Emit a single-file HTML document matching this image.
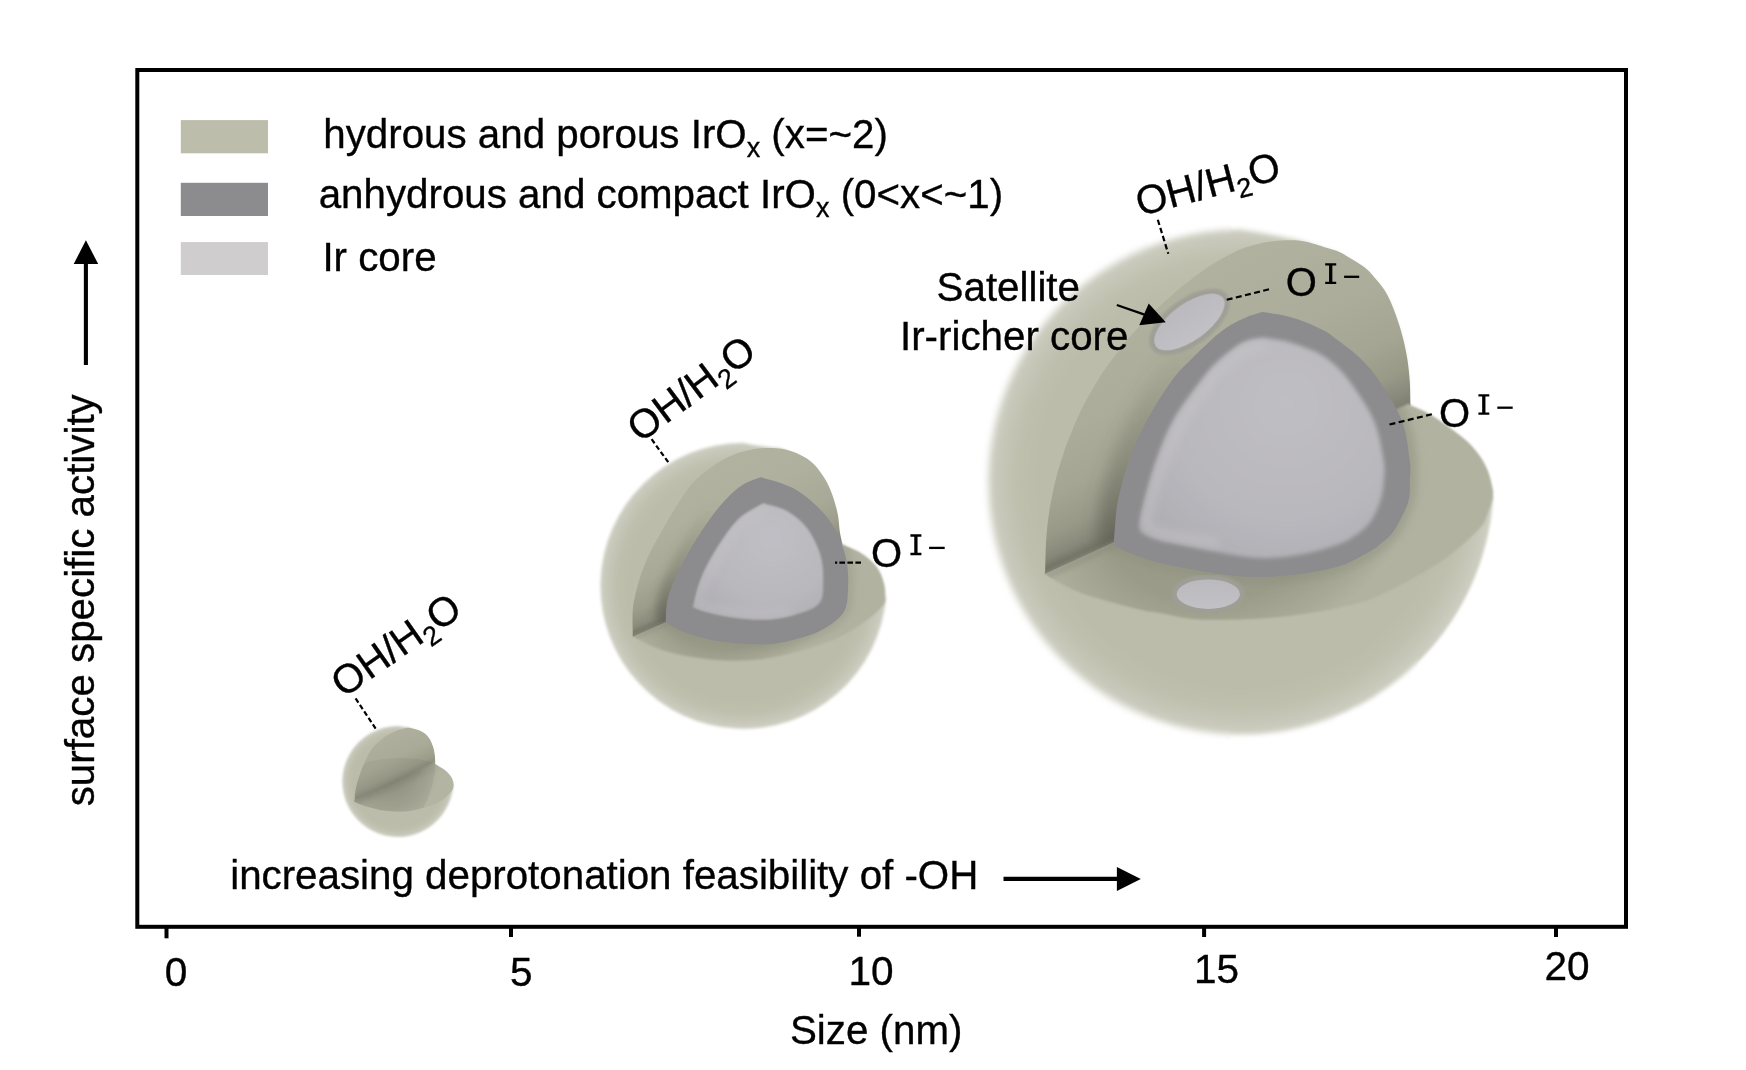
<!DOCTYPE html>
<html><head><meta charset="utf-8"><title>figure</title>
<style>
html,body{margin:0;padding:0;background:#fff;overflow:hidden;}
svg{display:block;}
text{font-family:"Liberation Sans",sans-serif;fill:#000;stroke:#000;stroke-width:0.35px;}
</style></head>
<body>
<svg width="1746" height="1070" viewBox="0 0 1746 1070">
<defs>
<filter id="bs" x="-5%" y="-5%" width="110%" height="110%"><feGaussianBlur stdDeviation="0.7"/></filter>
<filter id="bm" x="-5%" y="-5%" width="110%" height="110%"><feGaussianBlur stdDeviation="1.3"/></filter>
<filter id="b2" x="-20%" y="-20%" width="140%" height="140%"><feGaussianBlur stdDeviation="2.2"/></filter>
<filter id="b4" x="-30%" y="-30%" width="160%" height="160%"><feGaussianBlur stdDeviation="4"/></filter>
<filter id="b2u" filterUnits="userSpaceOnUse" x="0" y="0" width="1746" height="1070"><feGaussianBlur stdDeviation="2.2"/></filter>
<filter id="b4u" filterUnits="userSpaceOnUse" x="0" y="0" width="1746" height="1070"><feGaussianBlur stdDeviation="4"/></filter>
<filter id="b8" x="-30%" y="-30%" width="160%" height="160%"><feGaussianBlur stdDeviation="8"/></filter>
<radialGradient id="gB" gradientUnits="userSpaceOnUse" cx="1241" cy="482" r="256.1">
<stop offset="0" stop-color="#bbbca9"/><stop offset="0.80" stop-color="#bbbca9"/><stop offset="0.88" stop-color="#bfc0ae"/><stop offset="0.94" stop-color="#c6c7b8"/><stop offset="1" stop-color="#d0d1c5"/></radialGradient>
<filter id="bB" x="-10%" y="-10%" width="120%" height="120%"><feGaussianBlur stdDeviation="3.6"/></filter>
<filter id="bB0" x="-10%" y="-10%" width="120%" height="120%"><feGaussianBlur stdDeviation="3.60"/></filter>
<clipPath id="clB0"><rect x="928" y="170" width="199" height="625"/></clipPath>
<filter id="bB1" x="-10%" y="-10%" width="120%" height="120%"><feGaussianBlur stdDeviation="3.48"/></filter>
<clipPath id="clB1"><rect x="1127" y="170" width="21" height="625"/></clipPath>
<filter id="bB2" x="-10%" y="-10%" width="120%" height="120%"><feGaussianBlur stdDeviation="3.36"/></filter>
<clipPath id="clB2"><rect x="1148" y="170" width="21" height="625"/></clipPath>
<filter id="bB3" x="-10%" y="-10%" width="120%" height="120%"><feGaussianBlur stdDeviation="3.24"/></filter>
<clipPath id="clB3"><rect x="1169" y="170" width="21" height="625"/></clipPath>
<filter id="bB4" x="-10%" y="-10%" width="120%" height="120%"><feGaussianBlur stdDeviation="3.12"/></filter>
<clipPath id="clB4"><rect x="1190" y="170" width="20" height="625"/></clipPath>
<filter id="bB5" x="-10%" y="-10%" width="120%" height="120%"><feGaussianBlur stdDeviation="3.00"/></filter>
<clipPath id="clB5"><rect x="1210" y="170" width="21" height="625"/></clipPath>
<filter id="bB6" x="-10%" y="-10%" width="120%" height="120%"><feGaussianBlur stdDeviation="2.88"/></filter>
<clipPath id="clB6"><rect x="1231" y="170" width="21" height="625"/></clipPath>
<filter id="bB7" x="-10%" y="-10%" width="120%" height="120%"><feGaussianBlur stdDeviation="2.76"/></filter>
<clipPath id="clB7"><rect x="1252" y="170" width="21" height="625"/></clipPath>
<filter id="bB8" x="-10%" y="-10%" width="120%" height="120%"><feGaussianBlur stdDeviation="2.64"/></filter>
<clipPath id="clB8"><rect x="1273" y="170" width="20" height="625"/></clipPath>
<filter id="bB9" x="-10%" y="-10%" width="120%" height="120%"><feGaussianBlur stdDeviation="2.52"/></filter>
<clipPath id="clB9"><rect x="1293" y="170" width="21" height="625"/></clipPath>
<filter id="bB10" x="-10%" y="-10%" width="120%" height="120%"><feGaussianBlur stdDeviation="2.40"/></filter>
<clipPath id="clB10"><rect x="1314" y="170" width="21" height="625"/></clipPath>
<filter id="bB11" x="-10%" y="-10%" width="120%" height="120%"><feGaussianBlur stdDeviation="2.28"/></filter>
<clipPath id="clB11"><rect x="1335" y="170" width="21" height="625"/></clipPath>
<filter id="bB12" x="-10%" y="-10%" width="120%" height="120%"><feGaussianBlur stdDeviation="2.16"/></filter>
<clipPath id="clB12"><rect x="1356" y="170" width="20" height="625"/></clipPath>
<filter id="bB13" x="-10%" y="-10%" width="120%" height="120%"><feGaussianBlur stdDeviation="2.04"/></filter>
<clipPath id="clB13"><rect x="1376" y="170" width="21" height="625"/></clipPath>
<filter id="bB14" x="-10%" y="-10%" width="120%" height="120%"><feGaussianBlur stdDeviation="1.92"/></filter>
<clipPath id="clB14"><rect x="1397" y="170" width="21" height="625"/></clipPath>
<filter id="bB15" x="-10%" y="-10%" width="120%" height="120%"><feGaussianBlur stdDeviation="1.80"/></filter>
<clipPath id="clB15"><rect x="1418" y="170" width="136" height="625"/></clipPath>
<linearGradient id="wB" gradientUnits="userSpaceOnUse" x1="1045.2" y1="573.8" x2="902.8" y2="265.1"><stop offset="0" stop-color="#7c7d6e"/><stop offset="0.035" stop-color="#878879"/><stop offset="0.1" stop-color="#989987"/><stop offset="0.2" stop-color="#a4a592"/><stop offset="0.35" stop-color="#abac99"/><stop offset="0.6" stop-color="#b0b19e"/><stop offset="1" stop-color="#b3b4a1"/></linearGradient>
<radialGradient id="fB" gradientUnits="userSpaceOnUse" cx="0" cy="0" r="201.1" gradientTransform="translate(1227.8 489.5) rotate(-24.77) scale(1 0.795)"><stop offset="0" stop-color="#9a9b88"/><stop offset="0.66" stop-color="#9a9b88"/><stop offset="0.78" stop-color="#a2a390"/><stop offset="0.9" stop-color="#a9aa97"/><stop offset="1" stop-color="#b1b2a0"/></radialGradient>
<radialGradient id="gM" gradientUnits="userSpaceOnUse" cx="743.4" cy="585.8" r="144.6">
<stop offset="0" stop-color="#bbbca9"/><stop offset="0.80" stop-color="#bbbca9"/><stop offset="0.88" stop-color="#bfc0ae"/><stop offset="0.94" stop-color="#c6c7b8"/><stop offset="1" stop-color="#d0d1c5"/></radialGradient>
<filter id="bM" x="-10%" y="-10%" width="120%" height="120%"><feGaussianBlur stdDeviation="1.6"/></filter>
<linearGradient id="wM" gradientUnits="userSpaceOnUse" x1="632.9" y1="636.6" x2="556.4" y2="462.7"><stop offset="0" stop-color="#7c7d6e"/><stop offset="0.04" stop-color="#8a8b7b"/><stop offset="0.12" stop-color="#9c9d8a"/><stop offset="0.25" stop-color="#a8a996"/><stop offset="0.45" stop-color="#afb09d"/><stop offset="1" stop-color="#b4b5a2"/></linearGradient>
<radialGradient id="fM" gradientUnits="userSpaceOnUse" cx="0" cy="0" r="114.5" gradientTransform="translate(737.7 590.5) rotate(-23.74) scale(1 0.731)"><stop offset="0" stop-color="#9a9b88"/><stop offset="0.66" stop-color="#9a9b88"/><stop offset="0.78" stop-color="#a2a390"/><stop offset="0.9" stop-color="#a9aa97"/><stop offset="1" stop-color="#b1b2a0"/></radialGradient>
<radialGradient id="gS" gradientUnits="userSpaceOnUse" cx="397.8" cy="781.5" r="56.3">
<stop offset="0" stop-color="#bbbca9"/><stop offset="0.80" stop-color="#bbbca9"/><stop offset="0.88" stop-color="#bfc0ae"/><stop offset="0.94" stop-color="#c6c7b8"/><stop offset="1" stop-color="#d0d1c5"/></radialGradient>
<filter id="bS" x="-10%" y="-10%" width="120%" height="120%"><feGaussianBlur stdDeviation="0.8"/></filter>
<linearGradient id="wS" gradientUnits="userSpaceOnUse" x1="354.7" y1="802.1" x2="322.5" y2="734.3"><stop offset="0" stop-color="#8d8e7f"/><stop offset="0.1" stop-color="#9c9d8b"/><stop offset="0.3" stop-color="#a9aa97"/><stop offset="0.6" stop-color="#aeaf9c"/><stop offset="1" stop-color="#b1b2a0"/></linearGradient>
<radialGradient id="fS" gradientUnits="userSpaceOnUse" cx="0" cy="0" r="44.6" gradientTransform="translate(394.9 783.0) rotate(-25.39) scale(1 0.807)"><stop offset="0" stop-color="#9c9d8b"/><stop offset="0.35" stop-color="#a0a18f"/><stop offset="0.7" stop-color="#a9aa98"/><stop offset="1" stop-color="#b3b4a2"/></radialGradient>
<clipPath id="cwfB"><path d="M1045.2 573.8 C1045.4 568.2 1045.5 550.6 1046.2 540.0 C1046.9 529.4 1047.9 520.0 1049.5 510.0 C1051.1 500.0 1053.3 489.2 1055.6 480.0 C1057.8 470.8 1060.7 462.2 1063.0 455.0 C1065.3 447.8 1066.5 444.5 1069.5 437.0 C1072.5 429.5 1076.5 419.5 1081.2 410.0 C1086.0 400.5 1093.5 387.5 1098.0 380.0 C1102.5 372.5 1104.4 370.0 1108.0 365.0 C1111.6 360.0 1115.6 355.0 1119.5 350.0 C1123.4 345.0 1123.5 343.3 1131.3 335.0 C1139.1 326.7 1154.8 310.5 1166.4 300.0 C1178.0 289.5 1190.1 279.8 1201.0 272.0 C1211.9 264.2 1223.4 257.8 1232.0 253.3 C1240.6 248.9 1245.9 247.3 1252.8 245.3 C1259.7 243.3 1265.5 242.1 1273.4 241.3 C1281.3 240.6 1291.6 239.9 1300.0 240.8 C1308.4 241.7 1317.1 245.1 1323.7 246.9 C1330.3 248.8 1334.6 249.8 1339.4 251.9 C1344.2 254.1 1348.3 257.0 1352.8 259.8 C1357.3 262.6 1362.2 265.1 1366.3 268.7 C1370.4 272.2 1374.1 277.0 1377.5 281.1 C1380.9 285.2 1383.9 288.9 1386.5 293.4 C1389.1 297.9 1391.2 302.9 1393.2 308.0 C1395.2 313.1 1397.1 318.5 1398.8 323.7 C1400.5 328.9 1401.8 333.3 1403.3 339.4 C1404.8 345.4 1406.4 352.9 1407.5 360.0 C1408.6 367.1 1409.3 374.4 1409.8 382.0 C1410.3 389.6 1410.3 401.4 1410.4 405.3 Z"/><path d="M1410.4 405.3 C1413.0 406.4 1420.7 409.3 1425.8 412.0 C1430.9 414.7 1436.1 418.2 1441.3 421.7 C1446.5 425.2 1452.1 429.4 1456.7 433.0 C1461.3 436.6 1465.1 439.4 1469.0 443.3 C1472.9 447.2 1477.2 452.2 1480.3 456.7 C1483.4 461.2 1485.6 465.5 1487.5 470.1 C1489.4 474.7 1490.8 480.2 1491.7 484.5 C1492.6 488.8 1493.7 490.9 1492.9 496.0 C1492.1 501.1 1489.4 509.4 1487.0 515.0 C1484.6 520.6 1486.2 521.8 1478.3 529.7 C1470.4 537.6 1455.9 551.6 1439.4 562.6 C1423.0 573.6 1396.2 588.0 1379.6 595.5 C1363.0 603.0 1353.3 604.3 1340.0 607.5 C1326.7 610.7 1313.3 612.7 1300.0 614.5 C1286.7 616.3 1276.8 617.7 1260.0 618.5 C1243.2 619.3 1215.7 620.4 1199.0 619.5 C1182.3 618.6 1169.9 614.7 1160.0 613.0 C1150.1 611.3 1152.9 612.9 1139.5 609.5 C1126.1 606.1 1095.3 598.3 1079.6 592.5 C1063.9 586.7 1051.0 577.6 1045.3 574.6 L1044.3 571.8 L1409.5 403.3 Z"/></clipPath>
<clipPath id="cfB"><path d="M1410.4 405.3 C1413.0 406.4 1420.7 409.3 1425.8 412.0 C1430.9 414.7 1436.1 418.2 1441.3 421.7 C1446.5 425.2 1452.1 429.4 1456.7 433.0 C1461.3 436.6 1465.1 439.4 1469.0 443.3 C1472.9 447.2 1477.2 452.2 1480.3 456.7 C1483.4 461.2 1485.6 465.5 1487.5 470.1 C1489.4 474.7 1490.8 480.2 1491.7 484.5 C1492.6 488.8 1493.7 490.9 1492.9 496.0 C1492.1 501.1 1489.4 509.4 1487.0 515.0 C1484.6 520.6 1486.2 521.8 1478.3 529.7 C1470.4 537.6 1455.9 551.6 1439.4 562.6 C1423.0 573.6 1396.2 588.0 1379.6 595.5 C1363.0 603.0 1353.3 604.3 1340.0 607.5 C1326.7 610.7 1313.3 612.7 1300.0 614.5 C1286.7 616.3 1276.8 617.7 1260.0 618.5 C1243.2 619.3 1215.7 620.4 1199.0 619.5 C1182.3 618.6 1169.9 614.7 1160.0 613.0 C1150.1 611.3 1152.9 612.9 1139.5 609.5 C1126.1 606.1 1095.3 598.3 1079.6 592.5 C1063.9 586.7 1051.0 577.6 1045.3 574.6 L1044.3 571.8 L1409.5 403.3 Z"/></clipPath>
<clipPath id="cfM"><path d="M842.5 544.4 C845.2 545.6 853.9 549.0 858.7 551.8 C863.5 554.6 867.9 557.8 871.5 561.2 C875.1 564.6 878.0 568.4 880.1 572.4 C882.2 576.4 883.5 581.2 884.4 585.3 C885.2 589.4 885.5 593.5 885.2 597.0 C884.9 600.5 885.9 602.0 882.6 606.0 C879.3 610.0 872.9 615.8 865.2 621.2 C857.5 626.6 848.4 633.3 836.3 638.6 C824.2 643.9 807.3 649.4 792.8 653.0 C778.3 656.6 763.9 659.3 749.4 660.3 C734.9 661.3 720.5 660.7 706.0 659.0 C691.5 657.3 674.6 653.9 662.4 650.2 C650.2 646.5 637.8 638.9 632.9 636.6 L632.0 634.6 L841.6 542.4 Z"/></clipPath>
<clipPath id="cwfM"><path d="M632.9 636.6 C633.0 631.1 631.6 615.5 633.5 603.8 C635.4 592.1 639.3 578.3 644.0 566.2 C648.7 554.1 654.4 544.0 661.5 531.4 C668.6 518.8 679.5 500.5 686.5 490.8 C693.5 481.1 698.5 477.7 703.7 473.1 C708.9 468.5 712.9 465.9 717.5 463.0 C722.1 460.1 726.6 457.7 731.2 455.7 C735.8 453.7 740.1 452.3 745.0 451.1 C749.9 449.9 754.5 448.7 760.6 448.3 C766.7 447.9 775.1 447.7 781.7 448.8 C788.3 449.9 794.7 452.2 800.0 454.7 C805.3 457.2 809.6 459.9 813.7 463.9 C817.8 467.9 821.6 473.6 824.7 478.6 C827.8 483.7 829.9 488.3 832.1 494.2 C834.3 500.1 836.4 507.8 837.7 514.0 C839.0 520.2 839.0 526.3 839.8 531.4 C840.6 536.5 842.0 542.2 842.5 544.4 Z"/><path d="M842.5 544.4 C845.2 545.6 853.9 549.0 858.7 551.8 C863.5 554.6 867.9 557.8 871.5 561.2 C875.1 564.6 878.0 568.4 880.1 572.4 C882.2 576.4 883.5 581.2 884.4 585.3 C885.2 589.4 885.5 593.5 885.2 597.0 C884.9 600.5 885.9 602.0 882.6 606.0 C879.3 610.0 872.9 615.8 865.2 621.2 C857.5 626.6 848.4 633.3 836.3 638.6 C824.2 643.9 807.3 649.4 792.8 653.0 C778.3 656.6 763.9 659.3 749.4 660.3 C734.9 661.3 720.5 660.7 706.0 659.0 C691.5 657.3 674.6 653.9 662.4 650.2 C650.2 646.5 637.8 638.9 632.9 636.6 L632.0 634.6 L841.6 542.4 Z"/></clipPath>
<clipPath id="cwfS"><path d="M354.7 802.1 C354.8 800.5 354.8 795.6 355.2 792.5 C355.6 789.4 356.2 786.6 357.0 783.5 C357.8 780.4 358.7 777.7 360.0 774.0 C361.3 770.3 362.9 765.9 365.0 761.5 C367.1 757.1 369.7 751.6 372.9 747.6 C376.1 743.6 380.6 740.1 384.4 737.3 C388.2 734.5 392.5 732.5 395.8 731.0 C399.1 729.5 402.0 729.0 404.4 728.5 C406.8 728.0 407.2 727.6 410.1 728.1 C413.0 728.6 418.5 730.0 421.6 731.6 C424.8 733.2 427.1 735.4 429.0 737.9 C430.9 740.4 432.0 743.6 433.0 746.5 C434.0 749.4 434.4 752.2 434.8 755.1 C435.2 758.0 435.1 762.4 435.2 763.9 Z"/><path d="M435.2 763.9 C436.7 764.8 441.5 767.5 444.1 769.5 C446.7 771.5 449.2 773.8 450.8 776.2 C452.4 778.6 453.4 781.2 453.5 783.7 C453.6 786.2 453.8 788.2 451.5 791.2 C449.2 794.2 444.1 798.9 439.6 801.6 C435.1 804.3 429.6 806.1 424.6 807.6 C419.6 809.1 414.7 810.3 409.7 810.9 C404.7 811.5 399.7 811.6 394.7 811.4 C389.7 811.2 384.8 810.8 379.8 809.9 C374.8 809.0 369.0 807.4 364.8 806.1 C360.6 804.8 356.4 802.8 354.7 802.1 L353.8 800.1 L434.3 761.9 Z"/></clipPath>
<clipPath id="cwB0"><path d="M1045.2 573.8 C1045.4 568.2 1045.5 550.6 1046.2 540.0 C1046.9 529.4 1047.9 520.0 1049.5 510.0 C1051.1 500.0 1053.3 489.2 1055.6 480.0 C1057.8 470.8 1060.7 462.2 1063.0 455.0 C1065.3 447.8 1066.5 444.5 1069.5 437.0 C1072.5 429.5 1076.5 419.5 1081.2 410.0 C1086.0 400.5 1093.5 387.5 1098.0 380.0 C1102.5 372.5 1104.4 370.0 1108.0 365.0 C1111.6 360.0 1115.6 355.0 1119.5 350.0 C1123.4 345.0 1123.5 343.3 1131.3 335.0 C1139.1 326.7 1154.8 310.5 1166.4 300.0 C1178.0 289.5 1190.1 279.8 1201.0 272.0 C1211.9 264.2 1223.4 257.8 1232.0 253.3 C1240.6 248.9 1245.9 247.3 1252.8 245.3 C1259.7 243.3 1265.5 242.1 1273.4 241.3 C1281.3 240.6 1291.6 239.9 1300.0 240.8 C1308.4 241.7 1317.1 245.1 1323.7 246.9 C1330.3 248.8 1334.6 249.8 1339.4 251.9 C1344.2 254.1 1348.3 257.0 1352.8 259.8 C1357.3 262.6 1362.2 265.1 1366.3 268.7 C1370.4 272.2 1374.1 277.0 1377.5 281.1 C1380.9 285.2 1383.9 288.9 1386.5 293.4 C1389.1 297.9 1391.2 302.9 1393.2 308.0 C1395.2 313.1 1397.1 318.5 1398.8 323.7 C1400.5 328.9 1401.8 333.3 1403.3 339.4 C1404.8 345.4 1406.4 352.9 1407.5 360.0 C1408.6 367.1 1409.3 374.4 1409.8 382.0 C1410.3 389.6 1410.3 401.4 1410.4 405.3 Z"/></clipPath>
<clipPath id="cwM0"><path d="M632.9 636.6 C633.0 631.1 631.6 615.5 633.5 603.8 C635.4 592.1 639.3 578.3 644.0 566.2 C648.7 554.1 654.4 544.0 661.5 531.4 C668.6 518.8 679.5 500.5 686.5 490.8 C693.5 481.1 698.5 477.7 703.7 473.1 C708.9 468.5 712.9 465.9 717.5 463.0 C722.1 460.1 726.6 457.7 731.2 455.7 C735.8 453.7 740.1 452.3 745.0 451.1 C749.9 449.9 754.5 448.7 760.6 448.3 C766.7 447.9 775.1 447.7 781.7 448.8 C788.3 449.9 794.7 452.2 800.0 454.7 C805.3 457.2 809.6 459.9 813.7 463.9 C817.8 467.9 821.6 473.6 824.7 478.6 C827.8 483.7 829.9 488.3 832.1 494.2 C834.3 500.1 836.4 507.8 837.7 514.0 C839.0 520.2 839.0 526.3 839.8 531.4 C840.6 536.5 842.0 542.2 842.5 544.4 Z"/></clipPath>
<clipPath id="cwS"><path d="M354.7 802.1 C354.8 800.5 354.8 795.6 355.2 792.5 C355.6 789.4 356.2 786.6 357.0 783.5 C357.8 780.4 358.7 777.7 360.0 774.0 C361.3 770.3 362.9 765.9 365.0 761.5 C367.1 757.1 369.7 751.6 372.9 747.6 C376.1 743.6 380.6 740.1 384.4 737.3 C388.2 734.5 392.5 732.5 395.8 731.0 C399.1 729.5 402.0 729.0 404.4 728.5 C406.8 728.0 407.2 727.6 410.1 728.1 C413.0 728.6 418.5 730.0 421.6 731.6 C424.8 733.2 427.1 735.4 429.0 737.9 C430.9 740.4 432.0 743.6 433.0 746.5 C434.0 749.4 434.4 752.2 434.8 755.1 C435.2 758.0 435.1 762.4 435.2 763.9 Z"/></clipPath>
<clipPath id="cfS"><path d="M435.2 763.9 C436.7 764.8 441.5 767.5 444.1 769.5 C446.7 771.5 449.2 773.8 450.8 776.2 C452.4 778.6 453.4 781.2 453.5 783.7 C453.6 786.2 453.8 788.2 451.5 791.2 C449.2 794.2 444.1 798.9 439.6 801.6 C435.1 804.3 429.6 806.1 424.6 807.6 C419.6 809.1 414.7 810.3 409.7 810.9 C404.7 811.5 399.7 811.6 394.7 811.4 C389.7 811.2 384.8 810.8 379.8 809.9 C374.8 809.0 369.0 807.4 364.8 806.1 C360.6 804.8 356.4 802.8 354.7 802.1 L353.8 800.1 L434.3 761.9 Z"/></clipPath>
<linearGradient id="aoB" gradientUnits="userSpaceOnUse" x1="1113.7" y1="545" x2="1211.3" y2="340"><stop offset="0" stop-color="#55564b" stop-opacity="0.62"/><stop offset="0.35" stop-color="#5d5e52" stop-opacity="0.36"/><stop offset="1" stop-color="#6a6b5e" stop-opacity="0"/></linearGradient>
<clipPath id="cwB"><path d="M1045.2 573.8 C1045.4 568.2 1045.5 550.6 1046.2 540.0 C1046.9 529.4 1047.9 520.0 1049.5 510.0 C1051.1 500.0 1053.3 489.2 1055.6 480.0 C1057.8 470.8 1060.7 462.2 1063.0 455.0 C1065.3 447.8 1066.5 444.5 1069.5 437.0 C1072.5 429.5 1076.5 419.5 1081.2 410.0 C1086.0 400.5 1093.5 387.5 1098.0 380.0 C1102.5 372.5 1104.4 370.0 1108.0 365.0 C1111.6 360.0 1115.6 355.0 1119.5 350.0 C1123.4 345.0 1123.5 343.3 1131.3 335.0 C1139.1 326.7 1154.8 310.5 1166.4 300.0 C1178.0 289.5 1190.1 279.8 1201.0 272.0 C1211.9 264.2 1223.4 257.8 1232.0 253.3 C1240.6 248.9 1245.9 247.3 1252.8 245.3 C1259.7 243.3 1265.5 242.1 1273.4 241.3 C1281.3 240.6 1291.6 239.9 1300.0 240.8 C1308.4 241.7 1317.1 245.1 1323.7 246.9 C1330.3 248.8 1334.6 249.8 1339.4 251.9 C1344.2 254.1 1348.3 257.0 1352.8 259.8 C1357.3 262.6 1362.2 265.1 1366.3 268.7 C1370.4 272.2 1374.1 277.0 1377.5 281.1 C1380.9 285.2 1383.9 288.9 1386.5 293.4 C1389.1 297.9 1391.2 302.9 1393.2 308.0 C1395.2 313.1 1397.1 318.5 1398.8 323.7 C1400.5 328.9 1401.8 333.3 1403.3 339.4 C1404.8 345.4 1406.4 352.9 1407.5 360.0 C1408.6 367.1 1409.3 374.4 1409.8 382.0 C1410.3 389.6 1410.3 401.4 1410.4 405.3 Z"/></clipPath>
<radialGradient id="cB" gradientUnits="userSpaceOnUse" cx="1286" cy="404" r="191">
<stop offset="0" stop-color="#bfbec3"/><stop offset="0.6" stop-color="#b9b8bd"/><stop offset="1" stop-color="#adacb1"/></radialGradient>
<clipPath id="ccB"><path d="M1262.4 337.5 C1260.1 337.9 1252.7 338.7 1248.3 340.2 C1243.9 341.7 1241.2 342.9 1236.0 346.5 C1230.8 350.1 1222.8 356.4 1217.0 362.0 C1211.2 367.6 1208.5 370.3 1201.2 380.0 C1193.9 389.7 1180.7 406.7 1173.2 420.0 C1165.7 433.3 1160.9 446.7 1156.1 460.0 C1151.2 473.3 1146.9 489.5 1144.1 500.0 C1141.3 510.5 1139.9 517.8 1139.3 523.0 C1138.7 528.2 1140.1 530.1 1140.3 531.5 C1141.6 532.3 1144.7 535.0 1148.0 536.5 C1151.3 538.0 1156.3 539.6 1160.0 540.7 C1163.7 541.8 1161.8 541.3 1170.2 543.0 C1178.6 544.7 1195.3 548.2 1210.3 550.7 C1225.3 553.2 1245.0 557.5 1260.0 558.1 C1275.0 558.7 1288.2 556.4 1300.0 554.5 C1311.8 552.6 1322.1 549.7 1330.5 547.0 C1338.9 544.3 1344.1 542.5 1350.6 538.5 C1357.1 534.5 1364.6 529.4 1369.6 523.0 C1374.6 516.6 1378.2 507.2 1380.6 500.0 C1383.0 492.8 1383.4 486.7 1383.9 480.0 C1384.4 473.3 1385.3 470.0 1383.6 460.0 C1381.9 450.0 1379.4 433.3 1373.6 420.0 C1367.8 406.7 1355.9 389.8 1348.6 380.0 C1341.3 370.2 1335.7 365.8 1330.0 361.0 C1324.3 356.2 1321.1 354.4 1314.4 351.3 C1307.8 348.2 1296.1 344.3 1290.1 342.4 C1284.1 340.5 1283.0 340.8 1278.4 340.0 C1273.8 339.2 1265.1 337.9 1262.4 337.5 Z"/></clipPath>
<linearGradient id="aoM" gradientUnits="userSpaceOnUse" x1="665.9" y1="622.7" x2="720" y2="506"><stop offset="0" stop-color="#55564b" stop-opacity="0.62"/><stop offset="0.35" stop-color="#5d5e52" stop-opacity="0.36"/><stop offset="1" stop-color="#6a6b5e" stop-opacity="0"/></linearGradient>
<clipPath id="cwM"><path d="M632.9 636.6 C633.0 631.1 631.6 615.5 633.5 603.8 C635.4 592.1 639.3 578.3 644.0 566.2 C648.7 554.1 654.4 544.0 661.5 531.4 C668.6 518.8 679.5 500.5 686.5 490.8 C693.5 481.1 698.5 477.7 703.7 473.1 C708.9 468.5 712.9 465.9 717.5 463.0 C722.1 460.1 726.6 457.7 731.2 455.7 C735.8 453.7 740.1 452.3 745.0 451.1 C749.9 449.9 754.5 448.7 760.6 448.3 C766.7 447.9 775.1 447.7 781.7 448.8 C788.3 449.9 794.7 452.2 800.0 454.7 C805.3 457.2 809.6 459.9 813.7 463.9 C817.8 467.9 821.6 473.6 824.7 478.6 C827.8 483.7 829.9 488.3 832.1 494.2 C834.3 500.1 836.4 507.8 837.7 514.0 C839.0 520.2 839.0 526.3 839.8 531.4 C840.6 536.5 842.0 542.2 842.5 544.4 Z"/></clipPath>
<radialGradient id="cM" gradientUnits="userSpaceOnUse" cx="771" cy="538" r="102">
<stop offset="0" stop-color="#c0bfc4"/><stop offset="0.6" stop-color="#b9b8bd"/><stop offset="1" stop-color="#adacb1"/></radialGradient>
<clipPath id="ccM"><path d="M763.2 503.3 C759.0 506.1 745.9 511.7 737.8 519.8 C729.7 527.9 720.9 541.6 714.6 551.7 C708.3 561.9 703.6 571.4 700.0 580.7 C696.4 590.0 694.0 602.9 692.8 607.3 C695.0 608.1 699.9 610.4 705.9 612.0 C711.9 613.6 719.4 615.6 729.0 616.9 C738.6 618.2 753.2 620.0 763.8 619.8 C774.4 619.5 783.6 618.1 792.8 615.4 C802.0 612.7 813.8 609.6 818.9 603.8 C824.0 598.0 823.0 588.9 823.2 580.7 C823.4 572.5 822.9 563.3 820.3 554.6 C817.6 545.9 812.8 535.8 807.3 528.5 C801.8 521.2 794.4 515.2 787.0 511.0 C779.6 506.8 767.2 504.6 763.2 503.3 Z"/></clipPath>
<linearGradient id="gsat" x1="0" y1="0" x2="0" y2="1"><stop offset="0" stop-color="#bab9be"/><stop offset="1" stop-color="#c2c1c6"/></linearGradient>
</defs>
<rect width="1746" height="1070" fill="#fff"/>
<g clip-path="url(#clB0)"><path d="M1241.0 229.5 A252.5 252.5 0 1 0 1493.1 496.0 L1490.4 495.9 C1490.2 494.0 1490.1 488.7 1489.2 484.5 C1488.3 480.2 1486.9 474.8 1485.0 470.2 C1483.1 465.6 1480.9 461.4 1477.8 457.0 C1474.7 452.5 1470.5 447.6 1466.5 443.7 C1462.6 439.8 1458.9 437.1 1454.3 433.6 C1449.7 430.0 1444.0 425.9 1438.9 422.4 C1433.8 419.0 1428.6 415.6 1423.5 412.9 C1418.3 410.2 1410.8 411.3 1408.1 406.3 C1405.5 401.4 1408.1 390.7 1407.6 383.3 C1407.2 375.8 1406.5 368.5 1405.5 361.5 C1404.4 354.4 1402.8 347.1 1401.4 341.1 C1400.0 335.0 1398.7 330.7 1397.0 325.5 C1395.4 320.3 1393.6 314.9 1391.6 309.9 C1389.5 304.9 1387.5 299.8 1385.0 295.4 C1382.4 290.9 1379.4 287.3 1376.1 283.2 C1372.8 279.1 1369.1 274.4 1365.0 270.9 C1361.0 267.3 1356.1 264.8 1351.7 262.0 C1347.2 259.3 1343.2 256.3 1338.4 254.2 C1333.6 252.1 1329.3 251.5 1322.9 249.3 C1316.5 247.0 1306.3 242.8 1300.0 240.8 C1293.7 238.8 1291.2 238.7 1285.0 237.4 C1278.8 236.1 1270.3 234.5 1263.0 233.2 C1255.7 231.9 1244.7 230.1 1241.0 229.5 Z" fill="url(#gB)" filter="url(#bB0)"/></g>
<g clip-path="url(#clB1)"><path d="M1241.0 229.5 A252.5 252.5 0 1 0 1493.1 496.0 L1490.4 495.9 C1490.2 494.0 1490.1 488.7 1489.2 484.5 C1488.3 480.2 1486.9 474.8 1485.0 470.2 C1483.1 465.6 1480.9 461.4 1477.8 457.0 C1474.7 452.5 1470.5 447.6 1466.5 443.7 C1462.6 439.8 1458.9 437.1 1454.3 433.6 C1449.7 430.0 1444.0 425.9 1438.9 422.4 C1433.8 419.0 1428.6 415.6 1423.5 412.9 C1418.3 410.2 1410.8 411.3 1408.1 406.3 C1405.5 401.4 1408.1 390.7 1407.6 383.3 C1407.2 375.8 1406.5 368.5 1405.5 361.5 C1404.4 354.4 1402.8 347.1 1401.4 341.1 C1400.0 335.0 1398.7 330.7 1397.0 325.5 C1395.4 320.3 1393.6 314.9 1391.6 309.9 C1389.5 304.9 1387.5 299.8 1385.0 295.4 C1382.4 290.9 1379.4 287.3 1376.1 283.2 C1372.8 279.1 1369.1 274.4 1365.0 270.9 C1361.0 267.3 1356.1 264.8 1351.7 262.0 C1347.2 259.3 1343.2 256.3 1338.4 254.2 C1333.6 252.1 1329.3 251.5 1322.9 249.3 C1316.5 247.0 1306.3 242.8 1300.0 240.8 C1293.7 238.8 1291.2 238.7 1285.0 237.4 C1278.8 236.1 1270.3 234.5 1263.0 233.2 C1255.7 231.9 1244.7 230.1 1241.0 229.5 Z" fill="url(#gB)" filter="url(#bB1)"/></g>
<g clip-path="url(#clB2)"><path d="M1241.0 229.5 A252.5 252.5 0 1 0 1493.1 496.0 L1490.4 495.9 C1490.2 494.0 1490.1 488.7 1489.2 484.5 C1488.3 480.2 1486.9 474.8 1485.0 470.2 C1483.1 465.6 1480.9 461.4 1477.8 457.0 C1474.7 452.5 1470.5 447.6 1466.5 443.7 C1462.6 439.8 1458.9 437.1 1454.3 433.6 C1449.7 430.0 1444.0 425.9 1438.9 422.4 C1433.8 419.0 1428.6 415.6 1423.5 412.9 C1418.3 410.2 1410.8 411.3 1408.1 406.3 C1405.5 401.4 1408.1 390.7 1407.6 383.3 C1407.2 375.8 1406.5 368.5 1405.5 361.5 C1404.4 354.4 1402.8 347.1 1401.4 341.1 C1400.0 335.0 1398.7 330.7 1397.0 325.5 C1395.4 320.3 1393.6 314.9 1391.6 309.9 C1389.5 304.9 1387.5 299.8 1385.0 295.4 C1382.4 290.9 1379.4 287.3 1376.1 283.2 C1372.8 279.1 1369.1 274.4 1365.0 270.9 C1361.0 267.3 1356.1 264.8 1351.7 262.0 C1347.2 259.3 1343.2 256.3 1338.4 254.2 C1333.6 252.1 1329.3 251.5 1322.9 249.3 C1316.5 247.0 1306.3 242.8 1300.0 240.8 C1293.7 238.8 1291.2 238.7 1285.0 237.4 C1278.8 236.1 1270.3 234.5 1263.0 233.2 C1255.7 231.9 1244.7 230.1 1241.0 229.5 Z" fill="url(#gB)" filter="url(#bB2)"/></g>
<g clip-path="url(#clB3)"><path d="M1241.0 229.5 A252.5 252.5 0 1 0 1493.1 496.0 L1490.4 495.9 C1490.2 494.0 1490.1 488.7 1489.2 484.5 C1488.3 480.2 1486.9 474.8 1485.0 470.2 C1483.1 465.6 1480.9 461.4 1477.8 457.0 C1474.7 452.5 1470.5 447.6 1466.5 443.7 C1462.6 439.8 1458.9 437.1 1454.3 433.6 C1449.7 430.0 1444.0 425.9 1438.9 422.4 C1433.8 419.0 1428.6 415.6 1423.5 412.9 C1418.3 410.2 1410.8 411.3 1408.1 406.3 C1405.5 401.4 1408.1 390.7 1407.6 383.3 C1407.2 375.8 1406.5 368.5 1405.5 361.5 C1404.4 354.4 1402.8 347.1 1401.4 341.1 C1400.0 335.0 1398.7 330.7 1397.0 325.5 C1395.4 320.3 1393.6 314.9 1391.6 309.9 C1389.5 304.9 1387.5 299.8 1385.0 295.4 C1382.4 290.9 1379.4 287.3 1376.1 283.2 C1372.8 279.1 1369.1 274.4 1365.0 270.9 C1361.0 267.3 1356.1 264.8 1351.7 262.0 C1347.2 259.3 1343.2 256.3 1338.4 254.2 C1333.6 252.1 1329.3 251.5 1322.9 249.3 C1316.5 247.0 1306.3 242.8 1300.0 240.8 C1293.7 238.8 1291.2 238.7 1285.0 237.4 C1278.8 236.1 1270.3 234.5 1263.0 233.2 C1255.7 231.9 1244.7 230.1 1241.0 229.5 Z" fill="url(#gB)" filter="url(#bB3)"/></g>
<g clip-path="url(#clB4)"><path d="M1241.0 229.5 A252.5 252.5 0 1 0 1493.1 496.0 L1490.4 495.9 C1490.2 494.0 1490.1 488.7 1489.2 484.5 C1488.3 480.2 1486.9 474.8 1485.0 470.2 C1483.1 465.6 1480.9 461.4 1477.8 457.0 C1474.7 452.5 1470.5 447.6 1466.5 443.7 C1462.6 439.8 1458.9 437.1 1454.3 433.6 C1449.7 430.0 1444.0 425.9 1438.9 422.4 C1433.8 419.0 1428.6 415.6 1423.5 412.9 C1418.3 410.2 1410.8 411.3 1408.1 406.3 C1405.5 401.4 1408.1 390.7 1407.6 383.3 C1407.2 375.8 1406.5 368.5 1405.5 361.5 C1404.4 354.4 1402.8 347.1 1401.4 341.1 C1400.0 335.0 1398.7 330.7 1397.0 325.5 C1395.4 320.3 1393.6 314.9 1391.6 309.9 C1389.5 304.9 1387.5 299.8 1385.0 295.4 C1382.4 290.9 1379.4 287.3 1376.1 283.2 C1372.8 279.1 1369.1 274.4 1365.0 270.9 C1361.0 267.3 1356.1 264.8 1351.7 262.0 C1347.2 259.3 1343.2 256.3 1338.4 254.2 C1333.6 252.1 1329.3 251.5 1322.9 249.3 C1316.5 247.0 1306.3 242.8 1300.0 240.8 C1293.7 238.8 1291.2 238.7 1285.0 237.4 C1278.8 236.1 1270.3 234.5 1263.0 233.2 C1255.7 231.9 1244.7 230.1 1241.0 229.5 Z" fill="url(#gB)" filter="url(#bB4)"/></g>
<g clip-path="url(#clB5)"><path d="M1241.0 229.5 A252.5 252.5 0 1 0 1493.1 496.0 L1490.4 495.9 C1490.2 494.0 1490.1 488.7 1489.2 484.5 C1488.3 480.2 1486.9 474.8 1485.0 470.2 C1483.1 465.6 1480.9 461.4 1477.8 457.0 C1474.7 452.5 1470.5 447.6 1466.5 443.7 C1462.6 439.8 1458.9 437.1 1454.3 433.6 C1449.7 430.0 1444.0 425.9 1438.9 422.4 C1433.8 419.0 1428.6 415.6 1423.5 412.9 C1418.3 410.2 1410.8 411.3 1408.1 406.3 C1405.5 401.4 1408.1 390.7 1407.6 383.3 C1407.2 375.8 1406.5 368.5 1405.5 361.5 C1404.4 354.4 1402.8 347.1 1401.4 341.1 C1400.0 335.0 1398.7 330.7 1397.0 325.5 C1395.4 320.3 1393.6 314.9 1391.6 309.9 C1389.5 304.9 1387.5 299.8 1385.0 295.4 C1382.4 290.9 1379.4 287.3 1376.1 283.2 C1372.8 279.1 1369.1 274.4 1365.0 270.9 C1361.0 267.3 1356.1 264.8 1351.7 262.0 C1347.2 259.3 1343.2 256.3 1338.4 254.2 C1333.6 252.1 1329.3 251.5 1322.9 249.3 C1316.5 247.0 1306.3 242.8 1300.0 240.8 C1293.7 238.8 1291.2 238.7 1285.0 237.4 C1278.8 236.1 1270.3 234.5 1263.0 233.2 C1255.7 231.9 1244.7 230.1 1241.0 229.5 Z" fill="url(#gB)" filter="url(#bB5)"/></g>
<g clip-path="url(#clB6)"><path d="M1241.0 229.5 A252.5 252.5 0 1 0 1493.1 496.0 L1490.4 495.9 C1490.2 494.0 1490.1 488.7 1489.2 484.5 C1488.3 480.2 1486.9 474.8 1485.0 470.2 C1483.1 465.6 1480.9 461.4 1477.8 457.0 C1474.7 452.5 1470.5 447.6 1466.5 443.7 C1462.6 439.8 1458.9 437.1 1454.3 433.6 C1449.7 430.0 1444.0 425.9 1438.9 422.4 C1433.8 419.0 1428.6 415.6 1423.5 412.9 C1418.3 410.2 1410.8 411.3 1408.1 406.3 C1405.5 401.4 1408.1 390.7 1407.6 383.3 C1407.2 375.8 1406.5 368.5 1405.5 361.5 C1404.4 354.4 1402.8 347.1 1401.4 341.1 C1400.0 335.0 1398.7 330.7 1397.0 325.5 C1395.4 320.3 1393.6 314.9 1391.6 309.9 C1389.5 304.9 1387.5 299.8 1385.0 295.4 C1382.4 290.9 1379.4 287.3 1376.1 283.2 C1372.8 279.1 1369.1 274.4 1365.0 270.9 C1361.0 267.3 1356.1 264.8 1351.7 262.0 C1347.2 259.3 1343.2 256.3 1338.4 254.2 C1333.6 252.1 1329.3 251.5 1322.9 249.3 C1316.5 247.0 1306.3 242.8 1300.0 240.8 C1293.7 238.8 1291.2 238.7 1285.0 237.4 C1278.8 236.1 1270.3 234.5 1263.0 233.2 C1255.7 231.9 1244.7 230.1 1241.0 229.5 Z" fill="url(#gB)" filter="url(#bB6)"/></g>
<g clip-path="url(#clB7)"><path d="M1241.0 229.5 A252.5 252.5 0 1 0 1493.1 496.0 L1490.4 495.9 C1490.2 494.0 1490.1 488.7 1489.2 484.5 C1488.3 480.2 1486.9 474.8 1485.0 470.2 C1483.1 465.6 1480.9 461.4 1477.8 457.0 C1474.7 452.5 1470.5 447.6 1466.5 443.7 C1462.6 439.8 1458.9 437.1 1454.3 433.6 C1449.7 430.0 1444.0 425.9 1438.9 422.4 C1433.8 419.0 1428.6 415.6 1423.5 412.9 C1418.3 410.2 1410.8 411.3 1408.1 406.3 C1405.5 401.4 1408.1 390.7 1407.6 383.3 C1407.2 375.8 1406.5 368.5 1405.5 361.5 C1404.4 354.4 1402.8 347.1 1401.4 341.1 C1400.0 335.0 1398.7 330.7 1397.0 325.5 C1395.4 320.3 1393.6 314.9 1391.6 309.9 C1389.5 304.9 1387.5 299.8 1385.0 295.4 C1382.4 290.9 1379.4 287.3 1376.1 283.2 C1372.8 279.1 1369.1 274.4 1365.0 270.9 C1361.0 267.3 1356.1 264.8 1351.7 262.0 C1347.2 259.3 1343.2 256.3 1338.4 254.2 C1333.6 252.1 1329.3 251.5 1322.9 249.3 C1316.5 247.0 1306.3 242.8 1300.0 240.8 C1293.7 238.8 1291.2 238.7 1285.0 237.4 C1278.8 236.1 1270.3 234.5 1263.0 233.2 C1255.7 231.9 1244.7 230.1 1241.0 229.5 Z" fill="url(#gB)" filter="url(#bB7)"/></g>
<g clip-path="url(#clB8)"><path d="M1241.0 229.5 A252.5 252.5 0 1 0 1493.1 496.0 L1490.4 495.9 C1490.2 494.0 1490.1 488.7 1489.2 484.5 C1488.3 480.2 1486.9 474.8 1485.0 470.2 C1483.1 465.6 1480.9 461.4 1477.8 457.0 C1474.7 452.5 1470.5 447.6 1466.5 443.7 C1462.6 439.8 1458.9 437.1 1454.3 433.6 C1449.7 430.0 1444.0 425.9 1438.9 422.4 C1433.8 419.0 1428.6 415.6 1423.5 412.9 C1418.3 410.2 1410.8 411.3 1408.1 406.3 C1405.5 401.4 1408.1 390.7 1407.6 383.3 C1407.2 375.8 1406.5 368.5 1405.5 361.5 C1404.4 354.4 1402.8 347.1 1401.4 341.1 C1400.0 335.0 1398.7 330.7 1397.0 325.5 C1395.4 320.3 1393.6 314.9 1391.6 309.9 C1389.5 304.9 1387.5 299.8 1385.0 295.4 C1382.4 290.9 1379.4 287.3 1376.1 283.2 C1372.8 279.1 1369.1 274.4 1365.0 270.9 C1361.0 267.3 1356.1 264.8 1351.7 262.0 C1347.2 259.3 1343.2 256.3 1338.4 254.2 C1333.6 252.1 1329.3 251.5 1322.9 249.3 C1316.5 247.0 1306.3 242.8 1300.0 240.8 C1293.7 238.8 1291.2 238.7 1285.0 237.4 C1278.8 236.1 1270.3 234.5 1263.0 233.2 C1255.7 231.9 1244.7 230.1 1241.0 229.5 Z" fill="url(#gB)" filter="url(#bB8)"/></g>
<g clip-path="url(#clB9)"><path d="M1241.0 229.5 A252.5 252.5 0 1 0 1493.1 496.0 L1490.4 495.9 C1490.2 494.0 1490.1 488.7 1489.2 484.5 C1488.3 480.2 1486.9 474.8 1485.0 470.2 C1483.1 465.6 1480.9 461.4 1477.8 457.0 C1474.7 452.5 1470.5 447.6 1466.5 443.7 C1462.6 439.8 1458.9 437.1 1454.3 433.6 C1449.7 430.0 1444.0 425.9 1438.9 422.4 C1433.8 419.0 1428.6 415.6 1423.5 412.9 C1418.3 410.2 1410.8 411.3 1408.1 406.3 C1405.5 401.4 1408.1 390.7 1407.6 383.3 C1407.2 375.8 1406.5 368.5 1405.5 361.5 C1404.4 354.4 1402.8 347.1 1401.4 341.1 C1400.0 335.0 1398.7 330.7 1397.0 325.5 C1395.4 320.3 1393.6 314.9 1391.6 309.9 C1389.5 304.9 1387.5 299.8 1385.0 295.4 C1382.4 290.9 1379.4 287.3 1376.1 283.2 C1372.8 279.1 1369.1 274.4 1365.0 270.9 C1361.0 267.3 1356.1 264.8 1351.7 262.0 C1347.2 259.3 1343.2 256.3 1338.4 254.2 C1333.6 252.1 1329.3 251.5 1322.9 249.3 C1316.5 247.0 1306.3 242.8 1300.0 240.8 C1293.7 238.8 1291.2 238.7 1285.0 237.4 C1278.8 236.1 1270.3 234.5 1263.0 233.2 C1255.7 231.9 1244.7 230.1 1241.0 229.5 Z" fill="url(#gB)" filter="url(#bB9)"/></g>
<g clip-path="url(#clB10)"><path d="M1241.0 229.5 A252.5 252.5 0 1 0 1493.1 496.0 L1490.4 495.9 C1490.2 494.0 1490.1 488.7 1489.2 484.5 C1488.3 480.2 1486.9 474.8 1485.0 470.2 C1483.1 465.6 1480.9 461.4 1477.8 457.0 C1474.7 452.5 1470.5 447.6 1466.5 443.7 C1462.6 439.8 1458.9 437.1 1454.3 433.6 C1449.7 430.0 1444.0 425.9 1438.9 422.4 C1433.8 419.0 1428.6 415.6 1423.5 412.9 C1418.3 410.2 1410.8 411.3 1408.1 406.3 C1405.5 401.4 1408.1 390.7 1407.6 383.3 C1407.2 375.8 1406.5 368.5 1405.5 361.5 C1404.4 354.4 1402.8 347.1 1401.4 341.1 C1400.0 335.0 1398.7 330.7 1397.0 325.5 C1395.4 320.3 1393.6 314.9 1391.6 309.9 C1389.5 304.9 1387.5 299.8 1385.0 295.4 C1382.4 290.9 1379.4 287.3 1376.1 283.2 C1372.8 279.1 1369.1 274.4 1365.0 270.9 C1361.0 267.3 1356.1 264.8 1351.7 262.0 C1347.2 259.3 1343.2 256.3 1338.4 254.2 C1333.6 252.1 1329.3 251.5 1322.9 249.3 C1316.5 247.0 1306.3 242.8 1300.0 240.8 C1293.7 238.8 1291.2 238.7 1285.0 237.4 C1278.8 236.1 1270.3 234.5 1263.0 233.2 C1255.7 231.9 1244.7 230.1 1241.0 229.5 Z" fill="url(#gB)" filter="url(#bB10)"/></g>
<g clip-path="url(#clB11)"><path d="M1241.0 229.5 A252.5 252.5 0 1 0 1493.1 496.0 L1490.4 495.9 C1490.2 494.0 1490.1 488.7 1489.2 484.5 C1488.3 480.2 1486.9 474.8 1485.0 470.2 C1483.1 465.6 1480.9 461.4 1477.8 457.0 C1474.7 452.5 1470.5 447.6 1466.5 443.7 C1462.6 439.8 1458.9 437.1 1454.3 433.6 C1449.7 430.0 1444.0 425.9 1438.9 422.4 C1433.8 419.0 1428.6 415.6 1423.5 412.9 C1418.3 410.2 1410.8 411.3 1408.1 406.3 C1405.5 401.4 1408.1 390.7 1407.6 383.3 C1407.2 375.8 1406.5 368.5 1405.5 361.5 C1404.4 354.4 1402.8 347.1 1401.4 341.1 C1400.0 335.0 1398.7 330.7 1397.0 325.5 C1395.4 320.3 1393.6 314.9 1391.6 309.9 C1389.5 304.9 1387.5 299.8 1385.0 295.4 C1382.4 290.9 1379.4 287.3 1376.1 283.2 C1372.8 279.1 1369.1 274.4 1365.0 270.9 C1361.0 267.3 1356.1 264.8 1351.7 262.0 C1347.2 259.3 1343.2 256.3 1338.4 254.2 C1333.6 252.1 1329.3 251.5 1322.9 249.3 C1316.5 247.0 1306.3 242.8 1300.0 240.8 C1293.7 238.8 1291.2 238.7 1285.0 237.4 C1278.8 236.1 1270.3 234.5 1263.0 233.2 C1255.7 231.9 1244.7 230.1 1241.0 229.5 Z" fill="url(#gB)" filter="url(#bB11)"/></g>
<g clip-path="url(#clB12)"><path d="M1241.0 229.5 A252.5 252.5 0 1 0 1493.1 496.0 L1490.4 495.9 C1490.2 494.0 1490.1 488.7 1489.2 484.5 C1488.3 480.2 1486.9 474.8 1485.0 470.2 C1483.1 465.6 1480.9 461.4 1477.8 457.0 C1474.7 452.5 1470.5 447.6 1466.5 443.7 C1462.6 439.8 1458.9 437.1 1454.3 433.6 C1449.7 430.0 1444.0 425.9 1438.9 422.4 C1433.8 419.0 1428.6 415.6 1423.5 412.9 C1418.3 410.2 1410.8 411.3 1408.1 406.3 C1405.5 401.4 1408.1 390.7 1407.6 383.3 C1407.2 375.8 1406.5 368.5 1405.5 361.5 C1404.4 354.4 1402.8 347.1 1401.4 341.1 C1400.0 335.0 1398.7 330.7 1397.0 325.5 C1395.4 320.3 1393.6 314.9 1391.6 309.9 C1389.5 304.9 1387.5 299.8 1385.0 295.4 C1382.4 290.9 1379.4 287.3 1376.1 283.2 C1372.8 279.1 1369.1 274.4 1365.0 270.9 C1361.0 267.3 1356.1 264.8 1351.7 262.0 C1347.2 259.3 1343.2 256.3 1338.4 254.2 C1333.6 252.1 1329.3 251.5 1322.9 249.3 C1316.5 247.0 1306.3 242.8 1300.0 240.8 C1293.7 238.8 1291.2 238.7 1285.0 237.4 C1278.8 236.1 1270.3 234.5 1263.0 233.2 C1255.7 231.9 1244.7 230.1 1241.0 229.5 Z" fill="url(#gB)" filter="url(#bB12)"/></g>
<g clip-path="url(#clB13)"><path d="M1241.0 229.5 A252.5 252.5 0 1 0 1493.1 496.0 L1490.4 495.9 C1490.2 494.0 1490.1 488.7 1489.2 484.5 C1488.3 480.2 1486.9 474.8 1485.0 470.2 C1483.1 465.6 1480.9 461.4 1477.8 457.0 C1474.7 452.5 1470.5 447.6 1466.5 443.7 C1462.6 439.8 1458.9 437.1 1454.3 433.6 C1449.7 430.0 1444.0 425.9 1438.9 422.4 C1433.8 419.0 1428.6 415.6 1423.5 412.9 C1418.3 410.2 1410.8 411.3 1408.1 406.3 C1405.5 401.4 1408.1 390.7 1407.6 383.3 C1407.2 375.8 1406.5 368.5 1405.5 361.5 C1404.4 354.4 1402.8 347.1 1401.4 341.1 C1400.0 335.0 1398.7 330.7 1397.0 325.5 C1395.4 320.3 1393.6 314.9 1391.6 309.9 C1389.5 304.9 1387.5 299.8 1385.0 295.4 C1382.4 290.9 1379.4 287.3 1376.1 283.2 C1372.8 279.1 1369.1 274.4 1365.0 270.9 C1361.0 267.3 1356.1 264.8 1351.7 262.0 C1347.2 259.3 1343.2 256.3 1338.4 254.2 C1333.6 252.1 1329.3 251.5 1322.9 249.3 C1316.5 247.0 1306.3 242.8 1300.0 240.8 C1293.7 238.8 1291.2 238.7 1285.0 237.4 C1278.8 236.1 1270.3 234.5 1263.0 233.2 C1255.7 231.9 1244.7 230.1 1241.0 229.5 Z" fill="url(#gB)" filter="url(#bB13)"/></g>
<g clip-path="url(#clB14)"><path d="M1241.0 229.5 A252.5 252.5 0 1 0 1493.1 496.0 L1490.4 495.9 C1490.2 494.0 1490.1 488.7 1489.2 484.5 C1488.3 480.2 1486.9 474.8 1485.0 470.2 C1483.1 465.6 1480.9 461.4 1477.8 457.0 C1474.7 452.5 1470.5 447.6 1466.5 443.7 C1462.6 439.8 1458.9 437.1 1454.3 433.6 C1449.7 430.0 1444.0 425.9 1438.9 422.4 C1433.8 419.0 1428.6 415.6 1423.5 412.9 C1418.3 410.2 1410.8 411.3 1408.1 406.3 C1405.5 401.4 1408.1 390.7 1407.6 383.3 C1407.2 375.8 1406.5 368.5 1405.5 361.5 C1404.4 354.4 1402.8 347.1 1401.4 341.1 C1400.0 335.0 1398.7 330.7 1397.0 325.5 C1395.4 320.3 1393.6 314.9 1391.6 309.9 C1389.5 304.9 1387.5 299.8 1385.0 295.4 C1382.4 290.9 1379.4 287.3 1376.1 283.2 C1372.8 279.1 1369.1 274.4 1365.0 270.9 C1361.0 267.3 1356.1 264.8 1351.7 262.0 C1347.2 259.3 1343.2 256.3 1338.4 254.2 C1333.6 252.1 1329.3 251.5 1322.9 249.3 C1316.5 247.0 1306.3 242.8 1300.0 240.8 C1293.7 238.8 1291.2 238.7 1285.0 237.4 C1278.8 236.1 1270.3 234.5 1263.0 233.2 C1255.7 231.9 1244.7 230.1 1241.0 229.5 Z" fill="url(#gB)" filter="url(#bB14)"/></g>
<g clip-path="url(#clB15)"><path d="M1241.0 229.5 A252.5 252.5 0 1 0 1493.1 496.0 L1490.4 495.9 C1490.2 494.0 1490.1 488.7 1489.2 484.5 C1488.3 480.2 1486.9 474.8 1485.0 470.2 C1483.1 465.6 1480.9 461.4 1477.8 457.0 C1474.7 452.5 1470.5 447.6 1466.5 443.7 C1462.6 439.8 1458.9 437.1 1454.3 433.6 C1449.7 430.0 1444.0 425.9 1438.9 422.4 C1433.8 419.0 1428.6 415.6 1423.5 412.9 C1418.3 410.2 1410.8 411.3 1408.1 406.3 C1405.5 401.4 1408.1 390.7 1407.6 383.3 C1407.2 375.8 1406.5 368.5 1405.5 361.5 C1404.4 354.4 1402.8 347.1 1401.4 341.1 C1400.0 335.0 1398.7 330.7 1397.0 325.5 C1395.4 320.3 1393.6 314.9 1391.6 309.9 C1389.5 304.9 1387.5 299.8 1385.0 295.4 C1382.4 290.9 1379.4 287.3 1376.1 283.2 C1372.8 279.1 1369.1 274.4 1365.0 270.9 C1361.0 267.3 1356.1 264.8 1351.7 262.0 C1347.2 259.3 1343.2 256.3 1338.4 254.2 C1333.6 252.1 1329.3 251.5 1322.9 249.3 C1316.5 247.0 1306.3 242.8 1300.0 240.8 C1293.7 238.8 1291.2 238.7 1285.0 237.4 C1278.8 236.1 1270.3 234.5 1263.0 233.2 C1255.7 231.9 1244.7 230.1 1241.0 229.5 Z" fill="url(#gB)" filter="url(#bB15)"/></g>
<path d="M1045.2 573.8 C1045.4 568.2 1045.5 550.6 1046.2 540.0 C1046.9 529.4 1047.9 520.0 1049.5 510.0 C1051.1 500.0 1053.3 489.2 1055.6 480.0 C1057.8 470.8 1060.7 462.2 1063.0 455.0 C1065.3 447.8 1066.5 444.5 1069.5 437.0 C1072.5 429.5 1076.5 419.5 1081.2 410.0 C1086.0 400.5 1093.5 387.5 1098.0 380.0 C1102.5 372.5 1104.4 370.0 1108.0 365.0 C1111.6 360.0 1115.6 355.0 1119.5 350.0 C1123.4 345.0 1123.5 343.3 1131.3 335.0 C1139.1 326.7 1154.8 310.5 1166.4 300.0 C1178.0 289.5 1190.1 279.8 1201.0 272.0 C1211.9 264.2 1223.4 257.8 1232.0 253.3 C1240.6 248.9 1245.9 247.3 1252.8 245.3 C1259.7 243.3 1265.5 242.1 1273.4 241.3 C1281.3 240.6 1291.6 239.9 1300.0 240.8 C1308.4 241.7 1317.1 245.1 1323.7 246.9 C1330.3 248.8 1334.6 249.8 1339.4 251.9 C1344.2 254.1 1348.3 257.0 1352.8 259.8 C1357.3 262.6 1362.2 265.1 1366.3 268.7 C1370.4 272.2 1374.1 277.0 1377.5 281.1 C1380.9 285.2 1383.9 288.9 1386.5 293.4 C1389.1 297.9 1391.2 302.9 1393.2 308.0 C1395.2 313.1 1397.1 318.5 1398.8 323.7 C1400.5 328.9 1401.8 333.3 1403.3 339.4 C1404.8 345.4 1406.4 352.9 1407.5 360.0 C1408.6 367.1 1409.3 374.4 1409.8 382.0 C1410.3 389.6 1410.3 401.4 1410.4 405.3 Z" fill="url(#wB)" filter="url(#bs)"/>
<path d="M1410.4 405.3 C1413.0 406.4 1420.7 409.3 1425.8 412.0 C1430.9 414.7 1436.1 418.2 1441.3 421.7 C1446.5 425.2 1452.1 429.4 1456.7 433.0 C1461.3 436.6 1465.1 439.4 1469.0 443.3 C1472.9 447.2 1477.2 452.2 1480.3 456.7 C1483.4 461.2 1485.6 465.5 1487.5 470.1 C1489.4 474.7 1490.8 480.2 1491.7 484.5 C1492.6 488.8 1493.7 490.9 1492.9 496.0 C1492.1 501.1 1489.4 509.4 1487.0 515.0 C1484.6 520.6 1486.2 521.8 1478.3 529.7 C1470.4 537.6 1455.9 551.6 1439.4 562.6 C1423.0 573.6 1396.2 588.0 1379.6 595.5 C1363.0 603.0 1353.3 604.3 1340.0 607.5 C1326.7 610.7 1313.3 612.7 1300.0 614.5 C1286.7 616.3 1276.8 617.7 1260.0 618.5 C1243.2 619.3 1215.7 620.4 1199.0 619.5 C1182.3 618.6 1169.9 614.7 1160.0 613.0 C1150.1 611.3 1152.9 612.9 1139.5 609.5 C1126.1 606.1 1095.3 598.3 1079.6 592.5 C1063.9 586.7 1051.0 577.6 1045.3 574.6 L1044.3 571.8 L1409.5 403.3 Z" fill="url(#fB)" filter="url(#bm)"/>
<path d="M743.4 442.8 A143 143 0 1 0 886.0 597.1 L882.7 596.8 C882.6 594.9 882.7 589.3 881.9 585.3 C881.1 581.3 879.8 576.6 877.6 572.6 C875.5 568.7 872.6 565.0 869.0 561.7 C865.5 558.3 861.1 555.2 856.3 552.5 C851.5 549.8 843.3 548.7 840.2 545.4 C837.1 542.1 838.4 537.6 837.6 532.6 C836.9 527.7 836.9 521.6 835.7 515.5 C834.5 509.4 832.4 501.8 830.4 496.0 C828.3 490.2 826.2 485.6 823.2 480.6 C820.2 475.6 816.5 470.0 812.5 466.1 C808.4 462.1 804.1 459.9 799.0 457.0 C793.9 454.1 786.1 450.4 781.7 448.8 C777.3 447.2 777.1 448.0 772.5 447.4 C767.9 446.8 759.1 445.9 754.2 445.1 C749.4 444.3 745.2 443.2 743.4 442.8 Z" fill="url(#gM)" filter="url(#bM)"/>
<path d="M632.9 636.6 C633.0 631.1 631.6 615.5 633.5 603.8 C635.4 592.1 639.3 578.3 644.0 566.2 C648.7 554.1 654.4 544.0 661.5 531.4 C668.6 518.8 679.5 500.5 686.5 490.8 C693.5 481.1 698.5 477.7 703.7 473.1 C708.9 468.5 712.9 465.9 717.5 463.0 C722.1 460.1 726.6 457.7 731.2 455.7 C735.8 453.7 740.1 452.3 745.0 451.1 C749.9 449.9 754.5 448.7 760.6 448.3 C766.7 447.9 775.1 447.7 781.7 448.8 C788.3 449.9 794.7 452.2 800.0 454.7 C805.3 457.2 809.6 459.9 813.7 463.9 C817.8 467.9 821.6 473.6 824.7 478.6 C827.8 483.7 829.9 488.3 832.1 494.2 C834.3 500.1 836.4 507.8 837.7 514.0 C839.0 520.2 839.0 526.3 839.8 531.4 C840.6 536.5 842.0 542.2 842.5 544.4 Z" fill="url(#wM)" filter="url(#bs)"/>
<path d="M842.5 544.4 C845.2 545.6 853.9 549.0 858.7 551.8 C863.5 554.6 867.9 557.8 871.5 561.2 C875.1 564.6 878.0 568.4 880.1 572.4 C882.2 576.4 883.5 581.2 884.4 585.3 C885.2 589.4 885.5 593.5 885.2 597.0 C884.9 600.5 885.9 602.0 882.6 606.0 C879.3 610.0 872.9 615.8 865.2 621.2 C857.5 626.6 848.4 633.3 836.3 638.6 C824.2 643.9 807.3 649.4 792.8 653.0 C778.3 656.6 763.9 659.3 749.4 660.3 C734.9 661.3 720.5 660.7 706.0 659.0 C691.5 657.3 674.6 653.9 662.4 650.2 C650.2 646.5 637.8 638.9 632.9 636.6 L632.0 634.6 L841.6 542.4 Z" fill="url(#fM)" filter="url(#bm)"/>
<path d="M397.8 726.0 A55.5 55.5 0 1 0 453.3 783.7 L451.0 783.6 C450.6 782.4 449.9 778.7 448.3 776.4 C446.8 774.2 444.2 772.0 441.7 770.1 C439.1 768.2 434.4 767.2 432.9 765.0 C431.5 762.7 433.1 759.3 432.8 756.6 C432.5 753.8 432.1 751.0 431.2 748.3 C430.4 745.5 429.3 742.3 427.5 739.9 C425.8 737.5 423.4 735.8 420.5 733.9 C417.6 731.9 413.3 729.3 410.1 728.1 C406.9 726.9 403.6 727.0 401.5 726.6 C399.4 726.2 398.4 726.1 397.8 726.0 Z" fill="url(#gS)" filter="url(#bS)"/>
<path d="M354.7 802.1 C354.8 800.5 354.8 795.6 355.2 792.5 C355.6 789.4 356.2 786.6 357.0 783.5 C357.8 780.4 358.7 777.7 360.0 774.0 C361.3 770.3 362.9 765.9 365.0 761.5 C367.1 757.1 369.7 751.6 372.9 747.6 C376.1 743.6 380.6 740.1 384.4 737.3 C388.2 734.5 392.5 732.5 395.8 731.0 C399.1 729.5 402.0 729.0 404.4 728.5 C406.8 728.0 407.2 727.6 410.1 728.1 C413.0 728.6 418.5 730.0 421.6 731.6 C424.8 733.2 427.1 735.4 429.0 737.9 C430.9 740.4 432.0 743.6 433.0 746.5 C434.0 749.4 434.4 752.2 434.8 755.1 C435.2 758.0 435.1 762.4 435.2 763.9 Z" fill="url(#wS)" filter="url(#bs)"/>
<path d="M435.2 763.9 C436.7 764.8 441.5 767.5 444.1 769.5 C446.7 771.5 449.2 773.8 450.8 776.2 C452.4 778.6 453.4 781.2 453.5 783.7 C453.6 786.2 453.8 788.2 451.5 791.2 C449.2 794.2 444.1 798.9 439.6 801.6 C435.1 804.3 429.6 806.1 424.6 807.6 C419.6 809.1 414.7 810.3 409.7 810.9 C404.7 811.5 399.7 811.6 394.7 811.4 C389.7 811.2 384.8 810.8 379.8 809.9 C374.8 809.0 369.0 807.4 364.8 806.1 C360.6 804.8 356.4 802.8 354.7 802.1 L353.8 800.1 L434.3 761.9 Z" fill="url(#fS)" filter="url(#bs)"/>
<g clip-path="url(#cwB0)">
<line x1="1040" y1="577.5" x2="1122" y2="538.5" stroke="#6c6d60" stroke-width="16" stroke-opacity="0.75" stroke-linecap="round" filter="url(#b4u)"/>
</g>
<g clip-path="url(#cfB)">
<line x1="1047" y1="576" x2="1118" y2="542.5" stroke="#7f8071" stroke-width="8" stroke-opacity="0.3" stroke-linecap="round" filter="url(#b2u)"/>
</g>
<g clip-path="url(#cwM0)">
<line x1="630" y1="639" x2="671" y2="620.5" stroke="#6c6d60" stroke-width="10" stroke-opacity="0.75" stroke-linecap="round" filter="url(#b2u)"/>
</g>
<g clip-path="url(#cfM)">
<line x1="634" y1="637.5" x2="668" y2="622.5" stroke="#7f8071" stroke-width="5" stroke-opacity="0.3" stroke-linecap="round" filter="url(#b2u)"/>
</g>
<g clip-path="url(#cwfS)">
<line x1="356" y1="801.5" x2="435" y2="764.8" stroke="#7f8071" stroke-width="6" stroke-opacity="0.55" stroke-linecap="round" filter="url(#b4u)"/>
<line x1="356" y1="801.5" x2="420" y2="771.5" stroke="#7f8071" stroke-width="3" stroke-opacity="0.5" stroke-linecap="round" filter="url(#b2u)"/>
</g>
<path d="M354.7 802.1 C353.0 798.8 353.6 791.4 354.5 786.0 C355.4 780.6 357.9 773.9 360.0 770.0 C362.1 766.1 363.1 764.4 367.2 762.5 C371.3 760.6 378.7 759.6 384.4 758.8 C390.1 758.0 395.8 757.7 401.5 757.7 C407.2 757.8 413.9 758.4 418.7 759.1 C423.5 759.8 427.4 761.2 430.2 762.0 C432.9 762.8 432.9 762.6 435.2 763.9 C437.5 765.1 441.5 767.5 444.1 769.5 C446.7 771.5 449.2 773.8 450.8 776.2 C452.4 778.6 453.4 781.2 453.5 783.7 C453.6 786.2 453.8 788.2 451.5 791.2 C449.2 794.2 444.1 798.9 439.6 801.6 C435.1 804.3 429.6 806.1 424.6 807.6 C419.6 809.1 414.7 810.3 409.7 810.9 C404.7 811.5 399.7 811.6 394.7 811.4 C389.7 811.2 384.8 810.8 379.8 809.9 C374.8 809.0 369.0 807.4 364.8 806.1 C360.6 804.8 356.4 805.5 354.7 802.1 Z" fill="#000" fill-opacity="0.045" clip-path="url(#cwS)" filter="url(#bs)"/>
<path d="M435.1 764.6 C435.0 766.2 435.0 771.1 434.6 774.2 C434.2 777.3 433.6 780.1 432.8 783.2 C432.0 786.3 431.1 789.0 429.8 792.7 C428.5 796.4 426.9 800.8 424.8 805.2 C422.6 809.6 420.1 815.1 416.9 819.1 C413.7 823.1 409.2 826.6 405.4 829.4 C401.6 832.2 397.3 834.2 394.0 835.7 C390.7 837.2 387.8 837.7 385.4 838.2 C383.0 838.7 382.6 839.1 379.7 838.6 C376.8 838.1 371.3 836.7 368.2 835.1 C365.0 833.5 362.7 831.3 360.8 828.8 C358.9 826.3 357.8 823.1 356.8 820.2 C355.8 817.3 355.4 814.5 355.0 811.6 C354.6 808.7 354.7 804.3 354.6 802.8 L350.6 793.8 L431.1 755.6 Z" fill="#000" fill-opacity="0.05" clip-path="url(#cfS)" filter="url(#bs)"/>
<path d="M1262.5 312.0 C1259.9 312.8 1252.2 314.8 1247.0 316.9 C1241.8 319.0 1236.3 321.8 1231.5 324.6 C1226.7 327.4 1221.5 331.3 1218.1 333.9 C1214.7 336.5 1215.8 335.7 1211.3 340.0 C1206.8 344.3 1197.5 352.8 1191.0 359.5 C1184.5 366.2 1179.5 369.9 1172.2 380.0 C1164.9 390.1 1154.3 406.7 1147.1 420.0 C1139.9 433.3 1133.9 446.7 1129.1 460.0 C1124.3 473.3 1120.4 489.2 1118.1 500.0 C1115.8 510.8 1115.8 517.5 1115.1 525.0 C1114.4 532.5 1113.9 541.7 1113.7 545.0 C1116.4 546.3 1122.3 550.0 1130.0 553.0 C1137.7 556.0 1148.3 560.1 1160.0 563.1 C1171.7 566.1 1188.3 569.0 1200.0 571.0 C1211.7 573.0 1220.0 574.3 1230.0 575.3 C1240.0 576.3 1248.3 577.3 1260.0 577.1 C1271.7 576.9 1286.7 575.8 1300.0 574.0 C1313.3 572.2 1328.2 569.9 1340.0 566.1 C1351.8 562.3 1363.9 554.6 1370.6 551.0 C1377.3 547.4 1376.7 547.0 1380.0 544.3 C1383.3 541.6 1387.4 538.9 1390.7 535.0 C1394.0 531.1 1396.7 526.8 1399.7 521.0 C1402.7 515.2 1407.0 506.8 1408.7 500.0 C1410.4 493.2 1409.7 486.7 1409.9 480.0 C1410.1 473.3 1411.1 470.0 1409.7 460.0 C1408.3 450.0 1406.9 433.3 1401.7 420.0 C1396.5 406.7 1385.5 390.3 1378.6 380.0 C1371.6 369.7 1366.8 364.7 1360.0 358.0 C1353.2 351.3 1343.5 344.5 1337.5 340.0 C1331.5 335.5 1329.9 333.9 1324.3 330.8 C1318.7 327.7 1310.6 324.1 1303.7 321.5 C1296.8 318.9 1290.0 316.9 1283.1 315.3 C1276.2 313.7 1265.9 312.6 1262.5 312.0 Z" fill="none" stroke="#8a8b7c" stroke-opacity="0.4" stroke-width="14" filter="url(#b4)" clip-path="url(#cfB)"/>
<g clip-path="url(#cwB)"><path d="M1262.5 312.0 C1259.9 312.8 1252.2 314.8 1247.0 316.9 C1241.8 319.0 1236.3 321.8 1231.5 324.6 C1226.7 327.4 1221.5 331.3 1218.1 333.9 C1214.7 336.5 1215.8 335.7 1211.3 340.0 C1206.8 344.3 1197.5 352.8 1191.0 359.5 C1184.5 366.2 1179.5 369.9 1172.2 380.0 C1164.9 390.1 1154.3 406.7 1147.1 420.0 C1139.9 433.3 1133.9 446.7 1129.1 460.0 C1124.3 473.3 1120.4 489.2 1118.1 500.0 C1115.8 510.8 1115.8 517.5 1115.1 525.0 C1114.4 532.5 1113.9 541.7 1113.7 545.0" fill="none" stroke="url(#aoB)" stroke-width="34" filter="url(#b8)"/></g>
<path d="M1262.5 312.0 C1259.9 312.8 1252.2 314.8 1247.0 316.9 C1241.8 319.0 1236.3 321.8 1231.5 324.6 C1226.7 327.4 1221.5 331.3 1218.1 333.9 C1214.7 336.5 1215.8 335.7 1211.3 340.0 C1206.8 344.3 1197.5 352.8 1191.0 359.5 C1184.5 366.2 1179.5 369.9 1172.2 380.0 C1164.9 390.1 1154.3 406.7 1147.1 420.0 C1139.9 433.3 1133.9 446.7 1129.1 460.0 C1124.3 473.3 1120.4 489.2 1118.1 500.0 C1115.8 510.8 1115.8 517.5 1115.1 525.0 C1114.4 532.5 1113.9 541.7 1113.7 545.0 C1116.4 546.3 1122.3 550.0 1130.0 553.0 C1137.7 556.0 1148.3 560.1 1160.0 563.1 C1171.7 566.1 1188.3 569.0 1200.0 571.0 C1211.7 573.0 1220.0 574.3 1230.0 575.3 C1240.0 576.3 1248.3 577.3 1260.0 577.1 C1271.7 576.9 1286.7 575.8 1300.0 574.0 C1313.3 572.2 1328.2 569.9 1340.0 566.1 C1351.8 562.3 1363.9 554.6 1370.6 551.0 C1377.3 547.4 1376.7 547.0 1380.0 544.3 C1383.3 541.6 1387.4 538.9 1390.7 535.0 C1394.0 531.1 1396.7 526.8 1399.7 521.0 C1402.7 515.2 1407.0 506.8 1408.7 500.0 C1410.4 493.2 1409.7 486.7 1409.9 480.0 C1410.1 473.3 1411.1 470.0 1409.7 460.0 C1408.3 450.0 1406.9 433.3 1401.7 420.0 C1396.5 406.7 1385.5 390.3 1378.6 380.0 C1371.6 369.7 1366.8 364.7 1360.0 358.0 C1353.2 351.3 1343.5 344.5 1337.5 340.0 C1331.5 335.5 1329.9 333.9 1324.3 330.8 C1318.7 327.7 1310.6 324.1 1303.7 321.5 C1296.8 318.9 1290.0 316.9 1283.1 315.3 C1276.2 313.7 1265.9 312.6 1262.5 312.0 Z" fill="#8c8c8e" filter="url(#bs)"/>
<path d="M1262.4 337.5 C1260.1 337.9 1252.7 338.7 1248.3 340.2 C1243.9 341.7 1241.2 342.9 1236.0 346.5 C1230.8 350.1 1222.8 356.4 1217.0 362.0 C1211.2 367.6 1208.5 370.3 1201.2 380.0 C1193.9 389.7 1180.7 406.7 1173.2 420.0 C1165.7 433.3 1160.9 446.7 1156.1 460.0 C1151.2 473.3 1146.9 489.5 1144.1 500.0 C1141.3 510.5 1139.9 517.8 1139.3 523.0 C1138.7 528.2 1140.1 530.1 1140.3 531.5 C1141.6 532.3 1144.7 535.0 1148.0 536.5 C1151.3 538.0 1156.3 539.6 1160.0 540.7 C1163.7 541.8 1161.8 541.3 1170.2 543.0 C1178.6 544.7 1195.3 548.2 1210.3 550.7 C1225.3 553.2 1245.0 557.5 1260.0 558.1 C1275.0 558.7 1288.2 556.4 1300.0 554.5 C1311.8 552.6 1322.1 549.7 1330.5 547.0 C1338.9 544.3 1344.1 542.5 1350.6 538.5 C1357.1 534.5 1364.6 529.4 1369.6 523.0 C1374.6 516.6 1378.2 507.2 1380.6 500.0 C1383.0 492.8 1383.4 486.7 1383.9 480.0 C1384.4 473.3 1385.3 470.0 1383.6 460.0 C1381.9 450.0 1379.4 433.3 1373.6 420.0 C1367.8 406.7 1355.9 389.8 1348.6 380.0 C1341.3 370.2 1335.7 365.8 1330.0 361.0 C1324.3 356.2 1321.1 354.4 1314.4 351.3 C1307.8 348.2 1296.1 344.3 1290.1 342.4 C1284.1 340.5 1283.0 340.8 1278.4 340.0 C1273.8 339.2 1265.1 337.9 1262.4 337.5 Z" fill="url(#cB)" filter="url(#b2)"/>
<g clip-path="url(#ccB)"><path d="M1262.0 346.5 C1259.8 346.9 1253.0 347.7 1249.0 349.2 C1244.9 350.6 1242.4 351.8 1237.7 355.3 C1233.0 358.8 1225.8 364.9 1220.6 370.3 C1215.4 375.6 1213.1 378.3 1206.6 387.2 C1200.1 396.0 1188.5 411.3 1181.6 423.3 C1174.6 435.4 1169.9 447.2 1165.1 459.4 C1160.2 471.6 1155.4 486.7 1152.4 496.5 C1149.4 506.4 1147.8 513.4 1147.0 518.4 C1146.3 523.4 1146.4 524.4 1147.8 526.5 C1149.1 528.6 1152.0 529.7 1155.1 531.0 C1158.3 532.4 1163.1 533.7 1166.7 534.7 C1170.2 535.6 1168.5 535.2 1176.4 536.5 C1184.4 537.8 1207.9 541.6 1214.2 542.6" fill="none" stroke="#c9c8cd" stroke-opacity="0.45" stroke-width="9" stroke-linecap="round" filter="url(#b4)"/></g>
<path d="M761.0 477.2 C758.8 478.0 752.2 479.9 748.0 482.0 C743.8 484.1 740.4 486.0 735.7 490.0 C731.0 494.0 725.0 500.2 720.0 506.0 C715.0 511.8 710.0 518.8 705.7 525.0 C701.4 531.2 697.6 537.2 694.0 543.0 C690.4 548.8 687.4 554.0 684.2 560.0 C681.0 566.0 677.6 573.2 675.0 579.0 C672.4 584.8 670.2 590.0 668.7 595.0 C667.2 600.0 666.8 604.4 666.3 609.0 C665.8 613.6 666.0 620.4 665.9 622.7 C669.2 624.4 676.5 629.7 685.6 632.8 C694.7 635.9 707.4 639.6 720.4 641.5 C733.4 643.4 751.7 644.6 763.8 644.4 C775.9 644.1 783.1 642.4 792.8 640.0 C802.5 637.6 813.3 634.6 821.8 630.0 C830.2 625.4 839.1 619.3 843.5 612.5 C847.9 605.7 847.5 598.1 848.0 589.4 C848.5 580.7 848.4 570.1 846.4 560.4 C844.4 550.7 840.9 540.1 836.3 531.4 C831.7 522.7 826.2 515.4 819.0 508.2 C811.8 501.0 802.5 493.2 792.8 488.0 C783.1 482.8 766.3 479.0 761.0 477.2 Z" fill="none" stroke="#8a8b7c" stroke-opacity="0.4" stroke-width="9" filter="url(#b4)" clip-path="url(#cfM)"/>
<g clip-path="url(#cwM)"><path d="M761.0 477.2 C758.8 478.0 752.2 479.9 748.0 482.0 C743.8 484.1 740.4 486.0 735.7 490.0 C731.0 494.0 725.0 500.2 720.0 506.0 C715.0 511.8 710.0 518.8 705.7 525.0 C701.4 531.2 697.6 537.2 694.0 543.0 C690.4 548.8 687.4 554.0 684.2 560.0 C681.0 566.0 677.6 573.2 675.0 579.0 C672.4 584.8 670.2 590.0 668.7 595.0 C667.2 600.0 666.8 604.4 666.3 609.0 C665.8 613.6 666.0 620.4 665.9 622.7" fill="none" stroke="url(#aoM)" stroke-width="20" filter="url(#b4)"/></g>
<path d="M761.0 477.2 C758.8 478.0 752.2 479.9 748.0 482.0 C743.8 484.1 740.4 486.0 735.7 490.0 C731.0 494.0 725.0 500.2 720.0 506.0 C715.0 511.8 710.0 518.8 705.7 525.0 C701.4 531.2 697.6 537.2 694.0 543.0 C690.4 548.8 687.4 554.0 684.2 560.0 C681.0 566.0 677.6 573.2 675.0 579.0 C672.4 584.8 670.2 590.0 668.7 595.0 C667.2 600.0 666.8 604.4 666.3 609.0 C665.8 613.6 666.0 620.4 665.9 622.7 C669.2 624.4 676.5 629.7 685.6 632.8 C694.7 635.9 707.4 639.6 720.4 641.5 C733.4 643.4 751.7 644.6 763.8 644.4 C775.9 644.1 783.1 642.4 792.8 640.0 C802.5 637.6 813.3 634.6 821.8 630.0 C830.2 625.4 839.1 619.3 843.5 612.5 C847.9 605.7 847.5 598.1 848.0 589.4 C848.5 580.7 848.4 570.1 846.4 560.4 C844.4 550.7 840.9 540.1 836.3 531.4 C831.7 522.7 826.2 515.4 819.0 508.2 C811.8 501.0 802.5 493.2 792.8 488.0 C783.1 482.8 766.3 479.0 761.0 477.2 Z" fill="#8c8c8e" filter="url(#bs)"/>
<path d="M763.2 503.3 C759.0 506.1 745.9 511.7 737.8 519.8 C729.7 527.9 720.9 541.6 714.6 551.7 C708.3 561.9 703.6 571.4 700.0 580.7 C696.4 590.0 694.0 602.9 692.8 607.3 C695.0 608.1 699.9 610.4 705.9 612.0 C711.9 613.6 719.4 615.6 729.0 616.9 C738.6 618.2 753.2 620.0 763.8 619.8 C774.4 619.5 783.6 618.1 792.8 615.4 C802.0 612.7 813.8 609.6 818.9 603.8 C824.0 598.0 823.0 588.9 823.2 580.7 C823.4 572.5 822.9 563.3 820.3 554.6 C817.6 545.9 812.8 535.8 807.3 528.5 C801.8 521.2 794.4 515.2 787.0 511.0 C779.6 506.8 767.2 504.6 763.2 503.3 Z" fill="url(#cM)" filter="url(#bm)"/>
<g clip-path="url(#ccM)"><path d="M762.6 509.3 C758.9 512.0 747.0 517.9 740.0 525.4 C732.9 532.9 725.8 545.0 720.1 554.0 C714.4 563.1 709.6 571.2 705.9 579.6 C702.2 587.9 697.2 599.5 698.0 604.3 C698.8 609.0 704.8 606.9 710.5 608.2 C716.2 609.4 723.3 610.8 732.1 611.7 C740.8 612.7 753.5 614.0 763.0 613.9 C772.5 613.7 784.7 611.2 789.1 610.7" fill="none" stroke="#c9c8cd" stroke-opacity="0.45" stroke-width="6" stroke-linecap="round" filter="url(#b4)"/></g>
<g transform="translate(1189.4 322) rotate(-35.7)"><ellipse rx="44.0" ry="21.0" fill="#9e9e96" stroke="#9e9e96" stroke-width="5.0" stroke-opacity="0.9" filter="url(#bm)"/><ellipse rx="41.5" ry="18.5" fill="url(#gsat)" filter="url(#bs)"/></g>
<g transform="translate(1208.3 594.2) rotate(0)"><ellipse rx="34.1" ry="17.2" fill="#9e9e96" stroke="#9e9e96" stroke-width="5.0" stroke-opacity="0.9" filter="url(#bm)"/><ellipse rx="31.6" ry="14.7" fill="url(#gsat)" filter="url(#bs)"/></g>
<rect x="137.3" y="70" width="1488.7" height="856.8" fill="none" stroke="#000" stroke-width="4"/>
<line x1="166.5" y1="926" x2="166.5" y2="938.3" stroke="#000" stroke-width="4"/>
<line x1="511" y1="926" x2="511" y2="937" stroke="#000" stroke-width="4"/>
<line x1="859" y1="926" x2="859" y2="936.7" stroke="#000" stroke-width="4"/>
<line x1="1204.1" y1="926" x2="1204.1" y2="937" stroke="#000" stroke-width="4"/>
<line x1="1556" y1="926" x2="1556" y2="937" stroke="#000" stroke-width="4"/>
<rect x="180.8" y="120.1" width="87.2" height="33.2" fill="#bcbdaa"/>
<rect x="180.8" y="182.8" width="87.2" height="33.2" fill="#8c8c8e"/>
<rect x="180.8" y="242.1" width="87.2" height="32.9" fill="#cfcdce"/>
<g opacity="0.999">
<text x="323.3" y="148" font-size="40.3" text-anchor="start" >hydrous and porous IrO<tspan font-size="27" dy="8.7">x</tspan><tspan dy="-8.7"> (x=~2)</tspan></text>
<text x="318.7" y="208" font-size="40.3" text-anchor="start" >anhydrous and compact IrO<tspan font-size="27" dy="9">x</tspan><tspan dy="-9"> (0&lt;x&lt;~1)</tspan></text>
<text x="322.4" y="271.4" font-size="40.3" text-anchor="start" >Ir core</text>
<text x="1008.3" y="301.2" font-size="40.3" text-anchor="middle" >Satellite</text>
<text x="1014.2" y="349.9" font-size="40.3" text-anchor="middle" >Ir-richer core</text>
<text x="230.2" y="889.3" font-size="40.3" text-anchor="start" >increasing deprotonation feasibility of -OH</text>
<text x="876.2" y="1043.6" font-size="40.3" text-anchor="middle" >Size (nm)</text>
<text x="176" y="986.4" font-size="40.6" text-anchor="middle" >0</text>
<text x="521.3" y="986.4" font-size="40.6" text-anchor="middle" >5</text>
<text x="871" y="984.9" font-size="40.6" text-anchor="middle" >10</text>
<text x="1216.6" y="982.7" font-size="40.6" text-anchor="middle" >15</text>
<text x="1567" y="979.9" font-size="40.6" text-anchor="middle" >20</text>
<text transform="translate(94.3 806.3) rotate(-90)" font-size="40.3">surface specific activity</text>
<text transform="translate(343.5 698.6) rotate(-35.1)" font-size="40.4">OH/H<tspan font-size="27" dy="8.5">2</tspan><tspan dy="-8.5">O</tspan></text>
<text transform="translate(640.2 443.6) rotate(-36.6)" font-size="40.4">OH/H<tspan font-size="27" dy="8.5">2</tspan><tspan dy="-8.5">O</tspan></text>
<text transform="translate(1140.0 216.2) rotate(-14.8)" font-size="40.4">OH/H<tspan font-size="27" dy="8.5">2</tspan><tspan dy="-8.5">O</tspan></text>
<text x="1438.9" y="426.8" font-size="40">O</text>
<path d="M1478.4 395.3H1489.3M1478.4 413.7H1489.3" stroke="#000" stroke-width="2.3" fill="none"/>
<path d="M1483.8 395.2V413.8" stroke="#000" stroke-width="3.3" fill="none"/>
<path d="M1497.3 407.7H1512.7" stroke="#000" stroke-width="2.3" fill="none"/>
<text x="1285.7" y="296.2" font-size="40">O</text>
<path d="M1325.2 264.4H1336.2M1325.2 282.8H1336.2" stroke="#000" stroke-width="2.3" fill="none"/>
<path d="M1330.7 264.3V282.9" stroke="#000" stroke-width="3.3" fill="none"/>
<path d="M1344.1 276.8H1359.2" stroke="#000" stroke-width="2.3" fill="none"/>
<text x="870.9" y="567.2" font-size="40">O</text>
<path d="M910.4 535.5H921.4M910.4 554.0H921.4" stroke="#000" stroke-width="2.3" fill="none"/>
<path d="M915.9 535.4V554.1" stroke="#000" stroke-width="3.3" fill="none"/>
<path d="M929.1 547.9H944.7" stroke="#000" stroke-width="2.3" fill="none"/>
<line x1="355.6" y1="698.4" x2="375.8" y2="728.8" stroke="#000" stroke-width="2.2" stroke-dasharray="5 2.8"/>
<line x1="651.6" y1="439.2" x2="668.3" y2="462.3" stroke="#000" stroke-width="2.2" stroke-dasharray="5 2.8"/>
<line x1="1157.8" y1="219.7" x2="1168.3" y2="253.8" stroke="#000" stroke-width="2.2" stroke-dasharray="5.5 3"/>
<line x1="1389.5" y1="424.5" x2="1432" y2="414.2" stroke="#000" stroke-width="2.2" stroke-dasharray="6 3.4"/>
<line x1="1226.7" y1="299.8" x2="1269" y2="289.3" stroke="#000" stroke-width="2.2" stroke-dasharray="6 3.4"/>
<line x1="835" y1="562.7" x2="861.2" y2="562.7" stroke="#000" stroke-width="2.2" stroke-dasharray="2.2 2.2 5.6 2.4 5.6 2.4 5.6 2.4"/>
<path d="M85.9 365V262" stroke="#000" stroke-width="4.1" fill="none"/><path d="M85.9 240.2L98.2 263.9H73.7Z" fill="#000"/>
<path d="M1003.5 878.9H1118" stroke="#000" stroke-width="4.1" fill="none"/><path d="M1140.8 878.9L1116.9 867V890.9Z" fill="#000"/>
<path d="M1116.8 305L1146 315.2" stroke="#000" stroke-width="2.3" fill="none"/><path d="M1165.8 322.3L1148.7 303.4L1139.3 325.3Z" fill="#000"/>
</g>
</svg>
</body></html>
